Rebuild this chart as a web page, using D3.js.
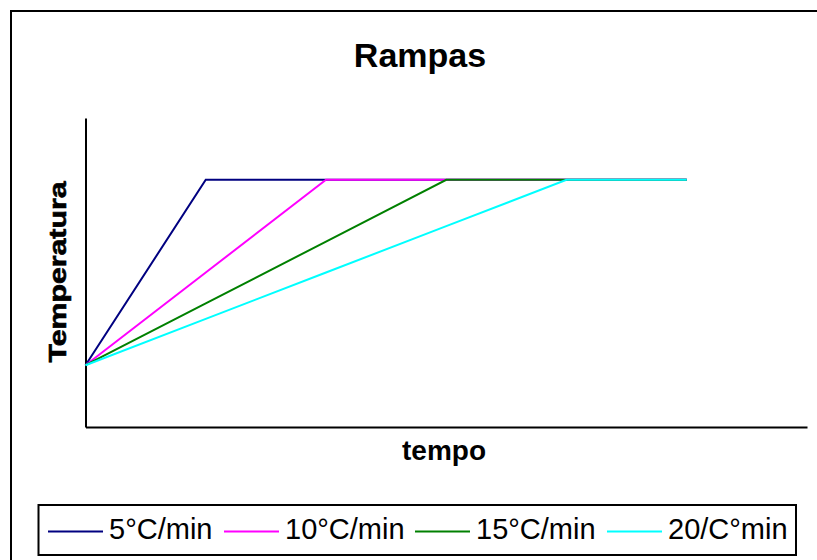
<!DOCTYPE html>
<html>
<head>
<meta charset="utf-8">
<script src="https://cdn.jsdelivr.net/npm/d3@7"></script>
<style>
  body { margin: 0; background: #fff; }
  svg { font-family: "Liberation Sans", Arial, sans-serif; display: block; }
</style>
</head>
<body>
<div id="chart"></div>
<script>
// data
var steps = [0, 1, 2, 3, 4, 5];
var rate5 = [50, 200, 200, 200, 200, 200];
var rate10 = [50, 125, 200, 200, 200, 200];
var rate15 = [50, 100, 150, 200, 200, 200];
var rate20 = [50, 87.5, 125, 162.5, 200, 200];
var seriesNames = ["5°C/min", "10°C/min", "15°C/min", "20/C°min"];
var seriesColors = ["#000080", "#ff00ff", "#008000", "#00ffff"];

var allSeries = [rate5, rate10, rate15, rate20];

var svgWidth = 817;
var svgHeight = 560;

var svg = d3.select("#chart")
  .append("svg")
  .attr("width", svgWidth)
  .attr("height", svgHeight);

// outer frame (runs off right and bottom)
svg.append("rect")
  .attr("x", 11)
  .attr("y", 11)
  .attr("width", 830)
  .attr("height", 580)
  .attr("fill", "none")
  .attr("stroke", "#000")
  .attr("stroke-width", 2);

// scales
var xScale = d3.scaleLinear()
  .domain([0, 6])
  .range([85.5, 807]);

var yScale = d3.scaleLinear()
  .domain([0, 250])
  .range([427, 118]);

// axes, no ticks
svg.append("g")
  .attr("transform", "translate(0, 427)")
  .call(d3.axisBottom(xScale).tickValues([]).tickSizeOuter(0))
  .select(".domain")
  .attr("stroke-width", 2);

svg.append("g")
  .attr("transform", "translate(85.5, 0)")
  .call(d3.axisLeft(yScale).tickValues([]).tickSizeOuter(0))
  .select(".domain")
  .attr("stroke-width", 2);

// lines
var line = d3.line()
  .x((d, i) => xScale(steps[i]))
  .y(d => yScale(d));

allSeries.forEach(function(values, k) {
  svg.append("path")
    .datum(values)
    .attr("fill", "none")
    .attr("stroke", seriesColors[k])
    .attr("stroke-width", 2)
    .attr("d", line);
});

// title and axis labels
svg.append("text")
  .attr("x", 420)
  .attr("y", 67)
  .attr("text-anchor", "middle")
  .style("font-size", "34px")
  .style("font-weight", "bold")
  .text("Rampas");

svg.append("text")
  .attr("x", 444)
  .attr("y", 460)
  .attr("text-anchor", "middle")
  .style("font-size", "28px")
  .style("font-weight", "bold")
  .text("tempo");

svg.append("text")
  .attr("transform", "translate(65.5, 272) rotate(-90)")
  .attr("text-anchor", "middle")
  .attr("textLength", 181)
  .attr("lengthAdjust", "spacingAndGlyphs")
  .style("font-size", "23px")
  .style("font-weight", "bold")
  .style("stroke", "#000")
  .style("stroke-width", 0.6)
  .text("Temperatura");

// legend
var legend = svg.append("g");

legend.append("rect")
  .attr("x", 38.5)
  .attr("y", 505)
  .attr("width", 757.5)
  .attr("height", 50)
  .attr("fill", "#fff")
  .attr("stroke", "#000")
  .attr("stroke-width", 2);

var legendX = [48, 224, 415, 607];

seriesNames.forEach(function(name, k) {
  var g = legend.append("g")
    .attr("transform", `translate(${legendX[k]}, 531.5)`);
  g.append("line")
    .attr("x1", 0)
    .attr("x2", 55)
    .attr("stroke", seriesColors[k])
    .attr("stroke-width", 2);
  g.append("text")
    .attr("x", 61)
    .attr("y", 7)
    .style("font-size", "29px")
    .text(name);
});
</script>
</body>
</html>
